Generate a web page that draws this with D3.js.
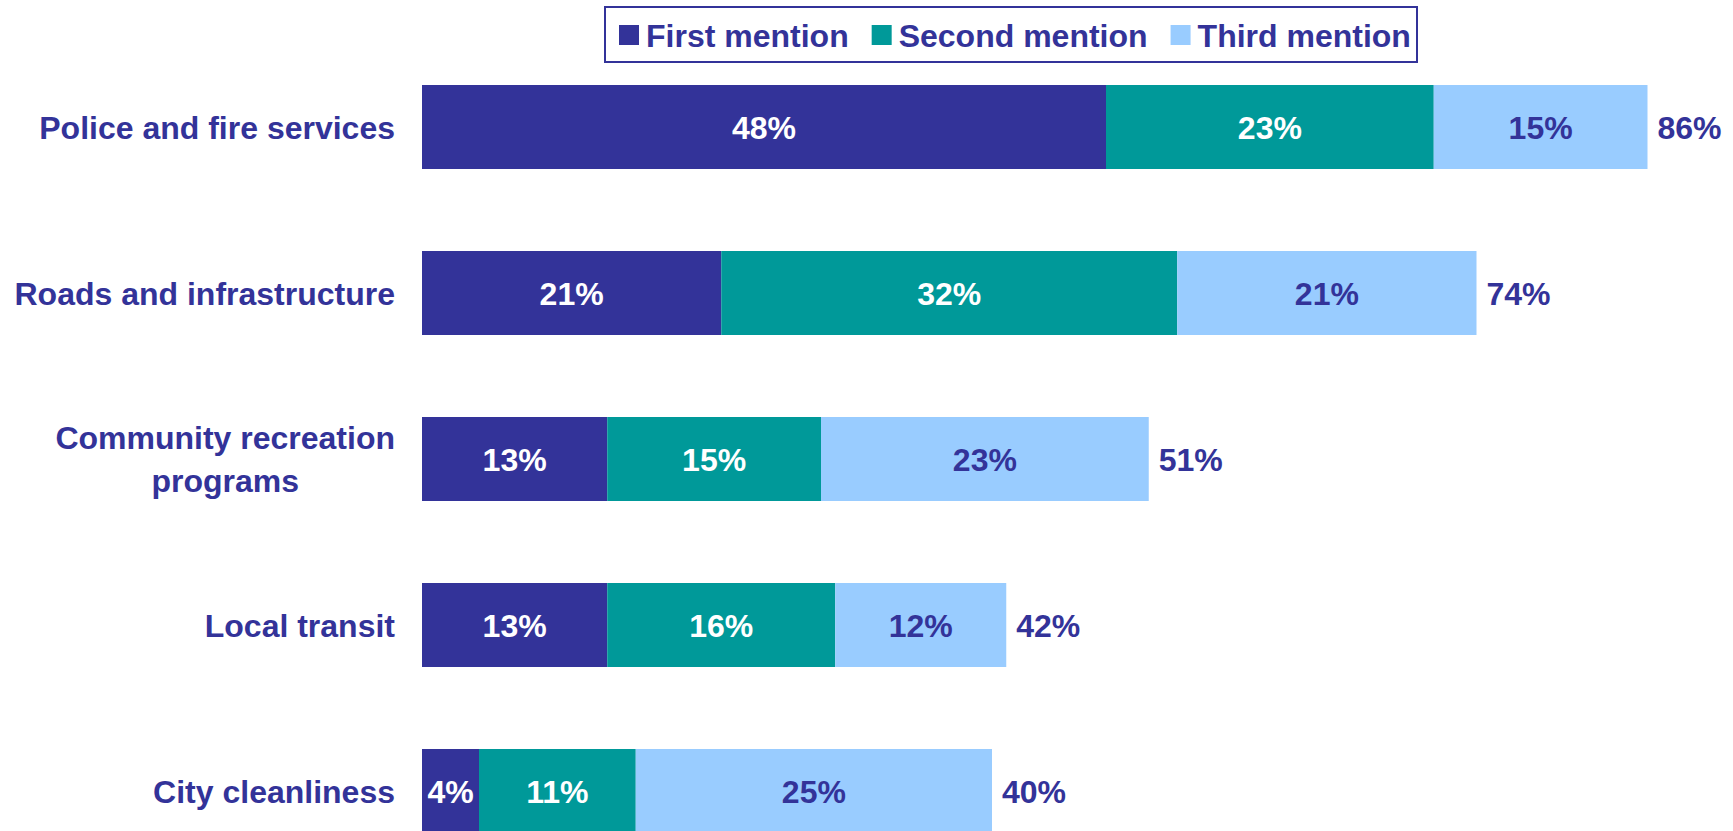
<!doctype html>
<html lang="en">
<head>
  <meta charset="UTF-8">
  <title>Mentions by service</title>
  <script src="https://cdnjs.cloudflare.com/ajax/libs/d3/7.8.5/d3.min.js"></script>
  <style>
  body { margin: 0; background: #fff; overflow: hidden; }
  text { font-family: "Liberation Sans", Arial, sans-serif; font-weight: bold; }
  </style>
</head>
<body>
<script>

var categories = ["Police and fire services", "Roads and infrastructure",
                  "Community recreation\nprograms", "Local transit", "City cleanliness"];
var seriesNames = ["First mention", "Second mention", "Third mention"];
var first  = [48, 21, 13, 13, 4];
var second = [23, 32, 15, 16, 11];
var third  = [15, 21, 23, 12, 25];
var totals = [86, 74, 51, 42, 40];

var colors = ["#333399", "#009999", "#99ccff"];
var labelColors = ["#ffffff", "#ffffff", "#333399"];
var navy = "#333399";

var w = 1733, h = 831;

var svg = d3.select('body').append('svg')
  .attr('width', w)
  .attr('height', h);

var x = d3.scaleLinear().domain([0, 100]).range([422, 1847]);
var y = d3.scaleBand().domain(categories).range([44, 874])
  .paddingInner(0.494).paddingOuter(0.247);

var rows = categories.map(function(c, i) {
  return { cat: c, vals: [first[i], second[i], third[i]], total: totals[i] };
});

var stack = d3.stack().keys([0, 1, 2]).value(function(d, k) { return d.vals[k]; });
var layers = stack(rows);

var g = svg.selectAll('g.layer')
  .data(layers)
  .enter().append('g')
  .attr('class', 'layer');

g.selectAll('rect')
  .data(function(d) { return d; })
  .enter().append('rect')
  .attr('x', function(d) { return x(d[0]); })
  .attr('y', function(d) { return y(d.data.cat); })
  .attr('width', function(d) { return x(d[1]) - x(d[0]); })
  .attr('height', y.bandwidth())
  .attr('fill', function(d) { return colors[d3.select(this.parentNode).datum().key]; });

g.selectAll('text')
  .data(function(d) { return d.map(function(s) { return { s: s, k: d.key }; }); })
  .enter().append('text')
  .attr('x', function(d) { return (x(d.s[0]) + x(d.s[1])) / 2; })
  .attr('y', function(d) { return y(d.s.data.cat) + y.bandwidth() / 2; })
  .attr('dy', '0.36em')
  .attr('text-anchor', 'middle')
  .attr('font-size', '32px')
  .attr('fill', function(d) { return labelColors[d.k]; })
  .text(function(d) { return d.s.data.vals[d.k] + '%'; });

// totals at the end of each bar
svg.selectAll('text.total')
  .data(rows)
  .enter().append('text')
  .attr('class', 'total')
  .attr('x', function(d) { return x(d.vals[0] + d.vals[1] + d.vals[2]) + 10; })
  .attr('y', function(d) { return y(d.cat) + y.bandwidth() / 2; })
  .attr('dy', '0.36em')
  .attr('font-size', '32px')
  .attr('fill', navy)
  .text(function(d) { return d.total + '%'; });

// category labels, multi-line ones centred on their widest line
var labelRight = 395;
svg.selectAll('text.cat')
  .data(categories)
  .enter().append('text')
  .attr('class', 'cat')
  .attr('font-size', '32px')
  .attr('fill', navy)
  .each(function(c) {
    var lines = c.split('\n');
    var t = d3.select(this);
    var cy = y(c) + y.bandwidth() / 2;
    var lh = 43;
    lines.forEach(function(l, i) {
      t.append('tspan')
        .attr('y', cy + (i - (lines.length - 1) / 2) * lh)
        .attr('dy', '0.36em')
        .text(l);
    });
    if (lines.length === 1) {
      t.attr('text-anchor', 'end').selectAll('tspan').attr('x', labelRight);
    } else {
      var maxW = 0;
      t.selectAll('tspan').each(function() {
        maxW = Math.max(maxW, this.getComputedTextLength());
      });
      t.attr('text-anchor', 'middle').selectAll('tspan').attr('x', labelRight - maxW / 2);
    }
  });

// legend
var legend = svg.append('g');
legend.append('rect')
  .attr('x', 605).attr('y', 7)
  .attr('width', 812).attr('height', 55)
  .attr('fill', '#fff')
  .attr('stroke', navy)
  .attr('stroke-width', 2);

var lx = 619;
seriesNames.forEach(function(name, i) {
  legend.append('rect')
    .attr('x', lx).attr('y', 25)
    .attr('width', 20).attr('height', 20)
    .attr('fill', colors[i]);
  var t = legend.append('text')
    .attr('x', lx + 27).attr('y', 35)
    .attr('dy', '0.36em')
    .attr('font-size', '32px')
    .attr('fill', navy)
    .text(name);
  lx += 27 + t.node().getComputedTextLength() + 23;
});

</script>
</body>
</html>
